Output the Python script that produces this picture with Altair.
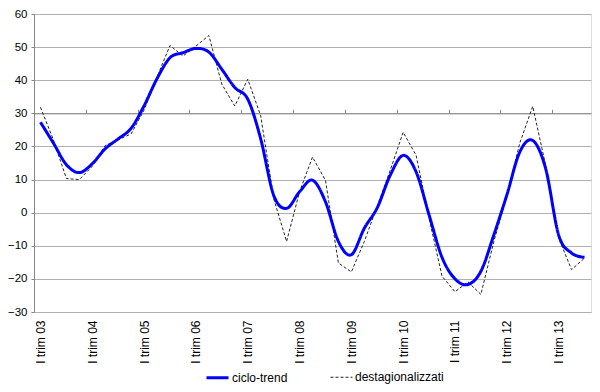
import json
import altair as alt
import pandas as pd

# Quarterly series, I trim 03 ... III trim 13 (43 quarters)
trend = [27.3, 21.0, 14.5, 12.1, 14.8, 19.3, 22.3, 25.5, 32.3, 40.5,
         46.8, 48.3, 49.6, 48.5, 43.3, 37.8, 34.3, 22.3, 5.3, 1.3,
         6.3, 9.8, 3.3, -8.7, -12.7, -4.7, 1.5, 11.3, 17.3, 12.3,
         -0.7, -13.5, -20.0, -21.7, -17.7, -6.7, 5.3, 18.3, 21.8, 13.3,
         -6.7, -12.2, -13.5]
destag = [31.8, 22.0, 10.3, 10.0, 14.0, 20.3, 22.0, 23.8, 31.0, 41.0,
          50.5, 47.3, 50.3, 53.5, 38.8, 32.2, 40.3, 29.3, 4.3, -8.7,
          6.3, 16.8, 9.8, -15.2, -17.9, -8.7, 2.0, 12.8, 24.3, 17.3,
          -1.7, -19.2, -23.9, -20.9, -24.7, -8.7, 5.0, 21.0, 32.1, 14.3,
          -7.7, -17.2, -13.7]
tick_labels = ["I trim 03", "I trim 04", "I trim 05", "I trim 06", "I trim 07",
               "I trim 08", "I trim 09", "I trim 10", "I trim 11", "I trim 12",
               "I trim 13"]
series_names = ["ciclo-trend", "destagionalizzati"]
y_ticks = [-30, -20, -10, 0, 10, 20, 30, 40, 50, 60]

rows = []
for i, (t, d) in enumerate(zip(trend, destag)):
    rows.append({"idx": i, "serie": series_names[0], "valore": t})
    rows.append({"idx": i, "serie": series_names[1], "valore": d})
df = pd.DataFrame(rows)

n = len(trend)
FONT = "Liberation Sans"
GRID = "#b0b0b0"
AXIS = "#868686"
H = 298
ZERO_OFFSET = -H * 30 / 90

xscale = alt.Scale(domain=[-0.5, n - 0.5], nice=False, zero=False)
yscale = alt.Scale(domain=[-30, 60], nice=False)

color_enc = alt.Color("serie:N",
                      scale=alt.Scale(domain=series_names, range=["#0000ff", "#222222"]),
                      legend=alt.Legend(title=None, orient="none", direction="horizontal",
                                        legendX=171, legendY=351,
                                        symbolType="stroke", symbolSize=484,
                                        labelOffset=2, columnPadding=40, padding=0,
                                        labelFont=FONT, labelFontSize=12,
                                        labelColor="#000000"))
dash_enc = alt.StrokeDash("serie:N",
                          scale=alt.Scale(domain=series_names, range=[[1, 0], [3, 2]]),
                          legend=None)
width_enc = alt.StrokeWidth("serie:N",
                            scale=alt.Scale(domain=series_names, range=[3, 1]),
                            legend=None)

y_enc = alt.Y("valore:Q", scale=yscale,
              axis=alt.Axis(values=y_ticks, title=None, grid=True, gridColor=GRID,
                            gridWidth=1, domainColor=AXIS, tickColor=AXIS, tickSize=3,
                            labelPadding=4, labelFont=FONT, labelFontSize=11.5,
                            labelColor="#000000"))

boundaries = [k + 3.5 for k in range(0, n - 4, 4)]

trend_layer = alt.Chart(df).transform_filter(
    alt.datum.serie == series_names[0]
).mark_line(interpolate="cardinal").encode(
    x=alt.X("idx:Q", scale=xscale,
            axis=alt.Axis(values=boundaries, labels=False, title=None, grid=False,
                          domain=True, domainColor=AXIS, ticks=True, tickColor=AXIS,
                          tickSize=4, offset=ZERO_OFFSET)),
    y=y_enc,
    color=color_enc,
    strokeDash=dash_enc,
    strokeWidth=width_enc,
)

label_expr = json.dumps(tick_labels) + "[round(datum.value/4)]"
destag_layer = alt.Chart(df).transform_filter(
    alt.datum.serie == series_names[1]
).mark_line(interpolate="linear").encode(
    x=alt.X("idx:Q", scale=xscale,
            axis=alt.Axis(values=list(range(0, n, 4)), labelExpr=label_expr,
                          title=None, grid=False, domain=False, ticks=False, tickSize=0,
                          labelAngle=-90, labelAlign="right", labelBaseline="middle",
                          labelPadding=8, labelFont=FONT, labelFontSize=12,
                          labelColor="#000000")),
    y=y_enc,
    color=color_enc,
    strokeDash=dash_enc,
    strokeWidth=width_enc,
)

chart = alt.layer(destag_layer, trend_layer).resolve_axis(
    x="independent"
).resolve_scale(x="shared").properties(
    width=557, height=H,
    autosize=alt.AutoSizeParams(type="none"),
    padding={"left": 26, "top": 6, "right": 1, "bottom": 72},
    background="#ffffff",
).configure_view(stroke=GRID, strokeWidth=1).configure(font=FONT)

chart.save("out.html", embed_options={"renderer": "svg", "actions": False})
